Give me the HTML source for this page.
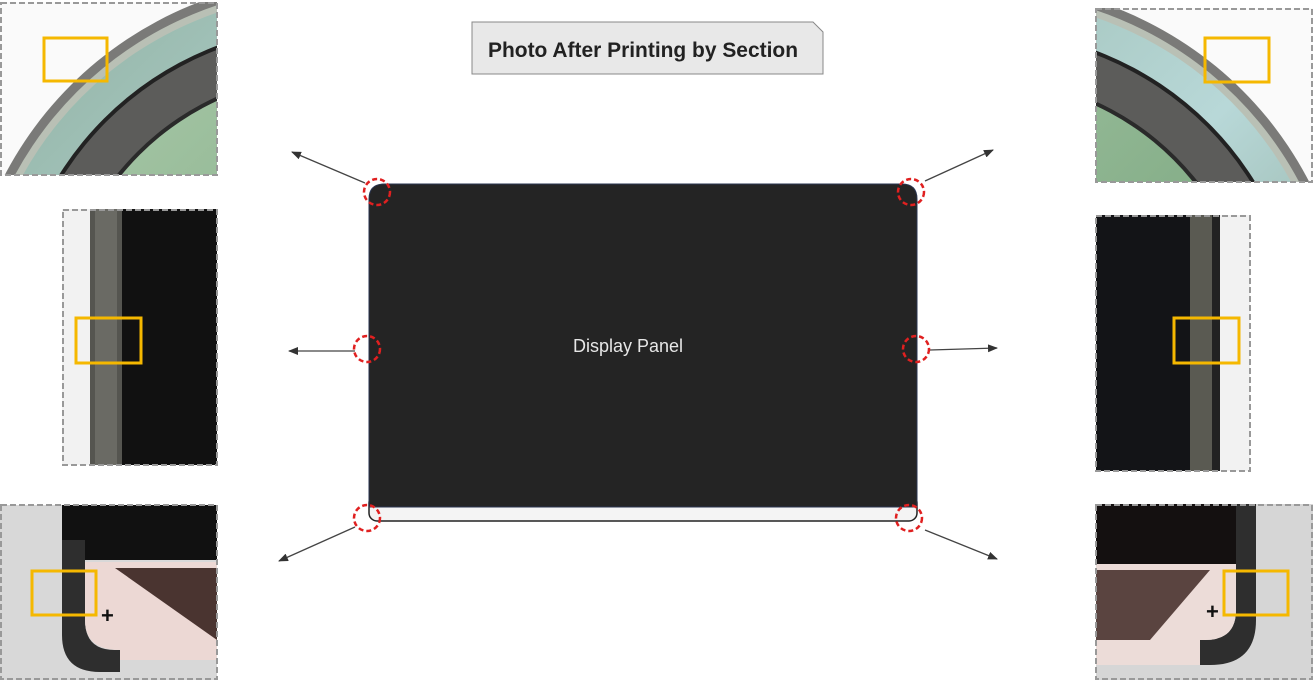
<!DOCTYPE html>
<html><head><meta charset="utf-8"><style>
html,body{margin:0;padding:0;background:#fff;width:1313px;height:680px;overflow:hidden;}
svg{display:block;}
</style></head><body>
<svg width="1313" height="680" viewBox="0 0 1313 680" xmlns="http://www.w3.org/2000/svg">
<defs>
<marker id="ah" markerWidth="10" markerHeight="8" refX="9" refY="4" orient="auto" markerUnits="userSpaceOnUse">
<path d="M0,0 L10,4 L0,8 z" fill="#333"/></marker>
<clipPath id="cTL"><rect x="0" y="2" width="217" height="173"/></clipPath>
<clipPath id="cTR"><rect x="1096" y="8" width="217" height="174"/></clipPath>
<linearGradient id="gg" x1="0" y1="0" x2="1" y2="1"><stop offset="0" stop-color="#8fb0a0"/><stop offset="0.5" stop-color="#b8d8d8"/><stop offset="1" stop-color="#6f8a70"/></linearGradient>
<linearGradient id="gi" x1="0" y1="0" x2="1" y2="1"><stop offset="0" stop-color="#a8c8a8"/><stop offset="1" stop-color="#6a9a70"/></linearGradient>
</defs>

<rect x="0" y="2" width="217" height="173" fill="#fafafa"/>
<g clip-path="url(#cTL)">
<circle cx="330" cy="345" r="367" fill="#7a7a78"/>
<circle cx="330" cy="345" r="358" fill="#b9c0b5"/>
<circle cx="330" cy="345" r="351" fill="url(#gg)"/>
<circle cx="330" cy="345" r="320" fill="#222"/>
<circle cx="330" cy="345" r="316" fill="#5c5c5a"/>
<circle cx="330" cy="345" r="273" fill="#2a2a2a"/>
<circle cx="330" cy="345" r="269" fill="url(#gi)"/>
</g>
<rect x="1" y="3" width="216" height="172" fill="none" stroke="#999" stroke-width="2" stroke-dasharray="6,3"/>
<rect x="44" y="38" width="63" height="43" fill="none" stroke="#f5b800" stroke-width="3"/>

<rect x="1096" y="8" width="217" height="174" fill="#fafafa"/>
<g clip-path="url(#cTR)">
<circle cx="983" cy="350" r="367" fill="#7a7a78"/>
<circle cx="983" cy="350" r="358" fill="#b9c0b5"/>
<circle cx="983" cy="350" r="351" fill="url(#gg)"/>
<circle cx="983" cy="350" r="320" fill="#222"/>
<circle cx="983" cy="350" r="316" fill="#5c5c5a"/>
<circle cx="983" cy="350" r="273" fill="#2a2a2a"/>
<circle cx="983" cy="350" r="269" fill="url(#gi)"/>
</g>
<rect x="1096" y="9" width="216" height="173" fill="none" stroke="#999" stroke-width="2" stroke-dasharray="6,3"/>
<rect x="1205" y="38" width="64" height="44" fill="none" stroke="#f5b800" stroke-width="3"/>

<rect x="62" y="209" width="155" height="256" fill="#111"/>
<rect x="62" y="209" width="28" height="256" fill="#f2f2f2"/>
<rect x="90" y="209" width="32" height="256" fill="#555550"/>
<rect x="95" y="209" width="22" height="256" fill="#6a6a64"/>
<rect x="63" y="210" width="154" height="255" fill="none" stroke="#999" stroke-width="2" stroke-dasharray="6,3"/>
<rect x="76" y="318" width="65" height="45" fill="none" stroke="#f5b800" stroke-width="3"/>

<rect x="1096" y="215" width="154" height="256" fill="#131417"/>
<rect x="1190" y="215" width="22" height="256" fill="#5a5a52"/>
<rect x="1212" y="215" width="8" height="256" fill="#222"/>
<rect x="1220" y="215" width="30" height="256" fill="#f2f2f2"/>
<rect x="1096" y="216" width="154" height="255" fill="none" stroke="#999" stroke-width="2" stroke-dasharray="6,3"/>
<rect x="1174" y="318" width="65" height="45" fill="none" stroke="#f5b800" stroke-width="3"/>

<rect x="0" y="505" width="217" height="175" fill="#d8d8d8"/>
<rect x="62" y="505" width="155" height="55" fill="#111"/>
<path d="M62,540 L85,540 L85,620 Q85,650 115,650 L120,650 L120,672 L100,672 Q62,672 62,635 Z" fill="#2e2e2e"/>
<path d="M85,562 L217,562 L217,660 L120,660 L120,650 Q85,650 85,620 Z" fill="#ecd8d4"/>
<path d="M115,568 L217,568 L217,640 Z" fill="#4a3430"/>
<rect x="1" y="505" width="216" height="174" fill="none" stroke="#999" stroke-width="2" stroke-dasharray="6,3"/>
<rect x="32" y="571" width="64" height="44" fill="none" stroke="#f5b800" stroke-width="3"/>
<text x="101" y="623" font-family="Liberation Sans, sans-serif" font-size="22" font-weight="bold" fill="#111">+</text>

<rect x="1096" y="504" width="217" height="176" fill="#d6d6d6"/>
<rect x="1096" y="504" width="160" height="60" fill="#141010"/>
<path d="M1256,504 L1256,620 Q1256,665 1210,665 L1200,665 L1200,640 L1205,640 Q1236,640 1236,610 L1236,504 Z" fill="#2e2e2e"/>
<path d="M1096,564 L1236,564 L1236,610 Q1236,640 1205,640 L1200,640 L1200,665 L1096,665 Z" fill="#ecdcd8"/>
<path d="M1096,570 L1210,570 L1150,640 L1096,640 Z" fill="#5a4440"/>
<rect x="1096" y="505" width="216" height="174" fill="none" stroke="#999" stroke-width="2" stroke-dasharray="6,3"/>
<rect x="1224" y="571" width="64" height="44" fill="none" stroke="#f5b800" stroke-width="3"/>
<text x="1206" y="619" font-family="Liberation Sans, sans-serif" font-size="22" font-weight="bold" fill="#111">+</text>

<path d="M472,22 L813,22 L823,32 L823,74 L472,74 Z" fill="#e8e8e8" stroke="#888" stroke-width="1"/>
<text x="643" y="57" text-anchor="middle" font-family="Liberation Sans, sans-serif" font-size="21" font-weight="bold" fill="#222" textLength="310" lengthAdjust="spacingAndGlyphs">Photo After Printing by Section</text>

<rect x="369" y="495" width="548" height="26" rx="8" fill="#f4f4f4" stroke="#222" stroke-width="1.5"/>
<path d="M384,184 L902,184 Q917,184 917,199 L917,507 L369,507 L369,199 Q369,184 384,184 Z" fill="#242424" stroke="#2a3550" stroke-width="1"/>
<text x="628" y="352" text-anchor="middle" font-family="Liberation Sans, sans-serif" font-size="18" fill="#e6e6e6">Display Panel</text>

<g stroke="#444" stroke-width="1.3" fill="none" marker-end="url(#ah)">
<line x1="365" y1="183" x2="292" y2="152"/>
<line x1="925" y1="181" x2="993" y2="150"/>
<line x1="355" y1="351" x2="289" y2="351"/>
<line x1="930" y1="350" x2="997" y2="348"/>
<line x1="355" y1="527" x2="279" y2="561"/>
<line x1="925" y1="530" x2="997" y2="559"/>
</g>

<g fill="none" stroke="#e02020" stroke-width="2.5" stroke-dasharray="5,3">
<circle cx="377" cy="192" r="13"/>
<circle cx="911" cy="192" r="13"/>
<circle cx="367" cy="349" r="13"/>
<circle cx="916" cy="349" r="13"/>
<circle cx="367" cy="518" r="13"/>
<circle cx="909" cy="518" r="13"/>
</g>
</svg>
</body></html>
